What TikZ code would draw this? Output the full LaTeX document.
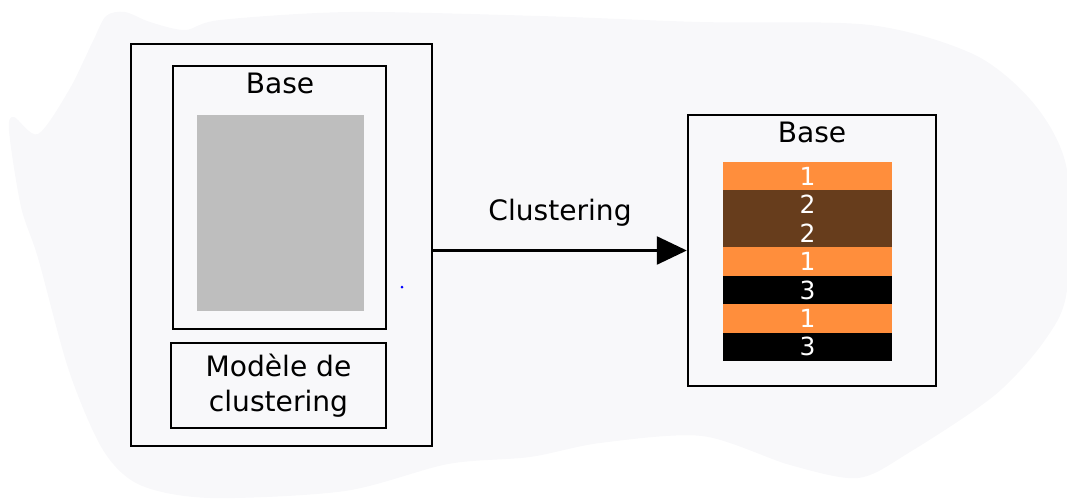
\documentclass[tikz,border=0pt]{standalone}
\usepackage{fontspec}
\setmainfont{DejaVu Sans}
\usetikzlibrary{arrows.meta,positioning}

\definecolor{fond}{HTML}{F8F8FA}
\definecolor{orange1}{HTML}{FF8E3C}
\definecolor{brun2}{HTML}{673D1C}
\definecolor{gris}{HTML}{BEBEBE}

\begin{document}
\begin{tikzpicture} [
        x=0.02cm, y=-0.02cm,
        line width=1.4pt,
        cadre/.style n args={2}{
        draw, fill=fond, rectangle, inner sep=0pt,
        minimum width=#1cm, minimum height=#2cm
        },
        titre/.style={font=\fontsize{16}{19.9}\selectfont, inner sep=0pt},
        bande/.style={
        #1, fill=#1, draw=none, rectangle, inner sep=0pt,
        minimum width=3.38cm, minimum height=0.5686cm,
        text=white, font=\fontsize{14.2}{16}\selectfont
        }
    ]

    \useasboundingbox (0,0) rectangle (1067,501);

    % fond
    \fill[fond] plot[smooth cycle, tension=0.5] coordinates {
        (106,16) (125,12) (150,22) (185,30) (220,20) (350,12) (540,16) (700,22)
        (870,25) (975,55) (1035,105) (1067,170) (1067,290) (1045,340)
        (995,395) (910,452) (858,478) (790,465) (702,436) (600,443)
        (530,457) (448,464) (345,491) (210,498) (140,485) (103,450)
        (69,371) (38,258) (21,207) (9,131) (14,117) (38,134) (69,90) (93,41)
    };

    % gauche
    \node[cadre = {6.02}{8.04}] (outer) at (281.5,245) {};
    \node[cadre = {4.26}{5.26}] (base1) at (279.5,197.5) {};
    \node[titre] (lbase1) at (280,83) {Base};
    \node[fill=gris, rectangle, minimum width=3.34cm, minimum height=3.92cm,
        inner sep=0pt] (donnees) at (280.5,213) {};
    \node[cadre = {4.3}{1.7}, titre, align=center] (modele) at (278.5,385.5)
        {Modèle de\\clustering};
    \fill[blue] (402,287) circle (1.5);

    % droite
    \node[cadre = {4.96}{5.42}] (res) at (812,250.5) {};
    \node[titre] (lbase2) at (812,132) {Base};

    \foreach \n/\c [count=\i from 0] in {1/orange1,2/brun2,2/brun2,1/orange1,3/black,1/orange1,3/black}
        \node[bande=\c] (b\i) at (807.5,{176.2+28.43*\i}) {\n};

    \draw[-{Triangle[length=0.6cm,width=0.56cm]}] (outer.east |- res.west) -- (res.west)
        node[titre, midway, above=0.46cm] (lclust) {Clustering};

\end{tikzpicture}
\end{document}
